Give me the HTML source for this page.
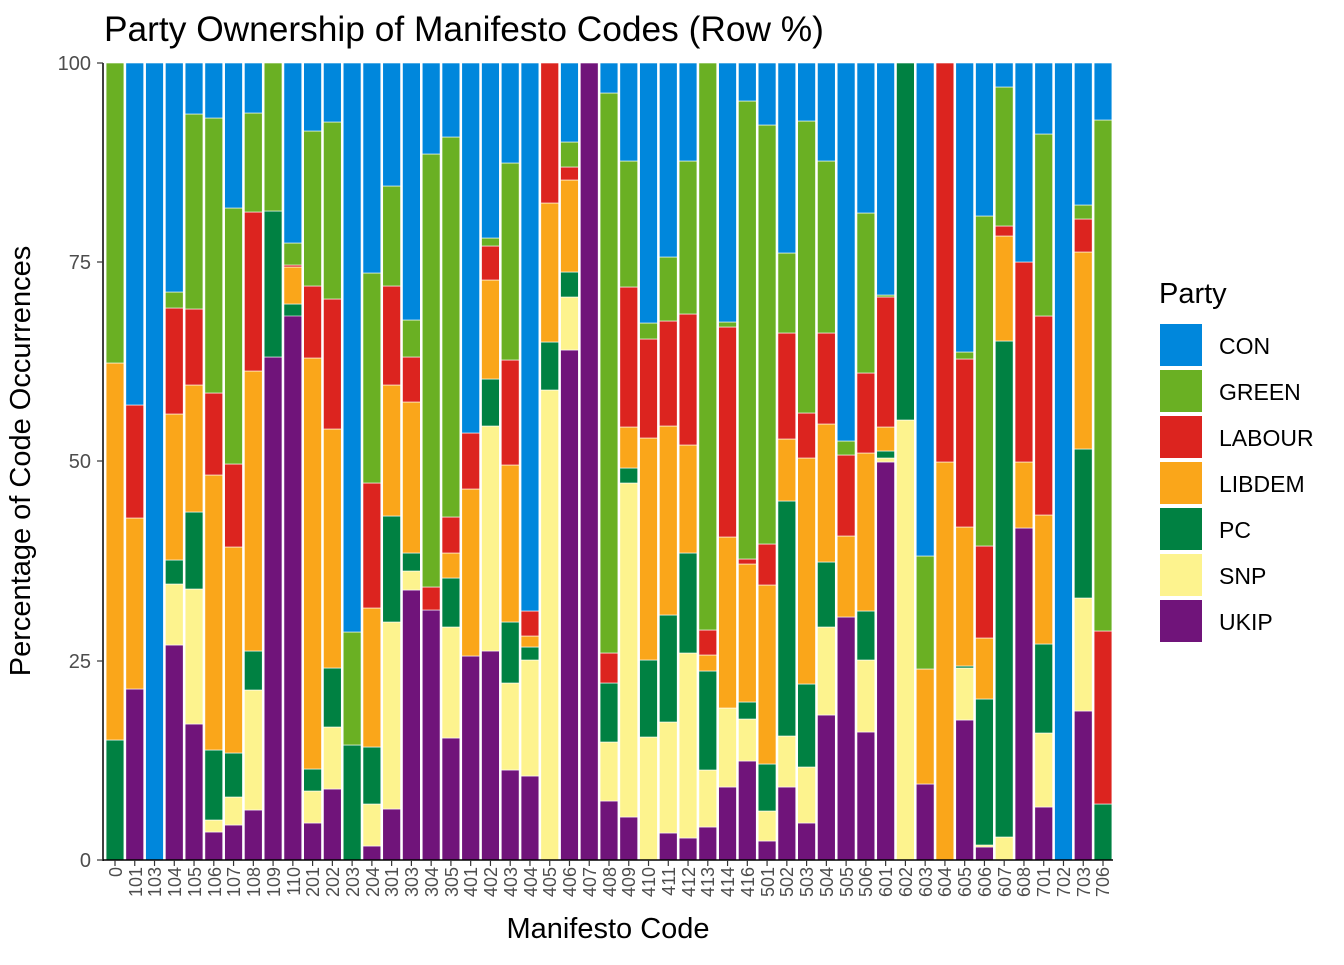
<!DOCTYPE html>
<html><head><meta charset="utf-8"><style>
body{margin:0;background:#fff}
svg text{font-family:"Liberation Sans",sans-serif}
</style></head><body>
<svg id="s" width="1344" height="960" xmlns="http://www.w3.org/2000/svg">
<rect width="1344" height="960" fill="#fff"/>
<text x="104" y="41" font-size="35.3" fill="#000">Party Ownership of Manifesto Codes (Row %)</text>
<g id="bars"></g>
<line x1="103" y1="63" x2="103" y2="861" stroke="#000" stroke-width="1.5"/>
<line x1="103" y1="860" x2="1113" y2="860" stroke="#000" stroke-width="1.5"/>
<g font-size="20" fill="#4d4d4d" text-anchor="end">
<text x="91" y="70">100</text><text x="91" y="269">75</text><text x="91" y="468">50</text><text x="91" y="668">25</text><text x="91" y="867">0</text>
</g>
<g stroke="#333" stroke-width="1.2">
<line x1="97" y1="63" x2="103" y2="63"/><line x1="97" y1="262" x2="103" y2="262"/><line x1="97" y1="461" x2="103" y2="461"/><line x1="97" y1="661" x2="103" y2="661"/><line x1="97" y1="860" x2="103" y2="860"/>
</g>
<g id="xt" stroke="#333" stroke-width="1.2"></g>
<text x="608" y="938" font-size="29" text-anchor="middle" fill="#000">Manifesto Code</text>
<text transform="translate(30,461) rotate(-90)" font-size="29" text-anchor="middle" fill="#000">Percentage of Code Occurrences</text>
<text x="1159" y="303" font-size="29" fill="#000">Party</text>
<rect x="1160" y="324" width="42" height="42" fill="#0087DC"/>
<rect x="1160" y="370" width="42" height="42" fill="#6AB023"/>
<rect x="1160" y="416" width="42" height="42" fill="#DC241F"/>
<rect x="1160" y="462" width="42" height="42" fill="#FAA61A"/>
<rect x="1160" y="508" width="42" height="42" fill="#008142"/>
<rect x="1160" y="554" width="42" height="42" fill="#FDF38E"/>
<rect x="1160" y="600" width="42" height="42" fill="#70147A"/>
<g font-size="23" fill="#000">
<text x="1219" y="354">CON</text><text x="1219" y="400">GREEN</text><text x="1219" y="446">LABOUR</text><text x="1219" y="492">LIBDEM</text><text x="1219" y="538">PC</text><text x="1219" y="584">SNP</text><text x="1219" y="630">UKIP</text>
</g>
<g font-size="18" fill="#4d4d4d" text-anchor="end">
<text transform="translate(122,867) rotate(-90)">0</text><text transform="translate(142,867) rotate(-90)">101</text><text transform="translate(161,867) rotate(-90)">103</text><text transform="translate(181,867) rotate(-90)">104</text><text transform="translate(201,867) rotate(-90)">105</text><text transform="translate(221,867) rotate(-90)">106</text><text transform="translate(240,867) rotate(-90)">107</text><text transform="translate(260,867) rotate(-90)">108</text><text transform="translate(280,867) rotate(-90)">109</text><text transform="translate(300,867) rotate(-90)">110</text><text transform="translate(319,867) rotate(-90)">201</text><text transform="translate(339,867) rotate(-90)">202</text><text transform="translate(359,867) rotate(-90)">203</text><text transform="translate(379,867) rotate(-90)">204</text><text transform="translate(398,867) rotate(-90)">301</text><text transform="translate(418,867) rotate(-90)">303</text><text transform="translate(438,867) rotate(-90)">304</text><text transform="translate(458,867) rotate(-90)">305</text><text transform="translate(477,867) rotate(-90)">401</text><text transform="translate(497,867) rotate(-90)">402</text><text transform="translate(517,867) rotate(-90)">403</text><text transform="translate(537,867) rotate(-90)">404</text><text transform="translate(556,867) rotate(-90)">405</text><text transform="translate(576,867) rotate(-90)">406</text><text transform="translate(596,867) rotate(-90)">407</text><text transform="translate(616,867) rotate(-90)">408</text><text transform="translate(635,867) rotate(-90)">409</text><text transform="translate(655,867) rotate(-90)">410</text><text transform="translate(675,867) rotate(-90)">411</text><text transform="translate(695,867) rotate(-90)">412</text><text transform="translate(714,867) rotate(-90)">413</text><text transform="translate(734,867) rotate(-90)">414</text><text transform="translate(754,867) rotate(-90)">416</text><text transform="translate(774,867) rotate(-90)">501</text><text transform="translate(793,867) rotate(-90)">502</text><text transform="translate(813,867) rotate(-90)">503</text><text transform="translate(833,867) rotate(-90)">504</text><text transform="translate(853,867) rotate(-90)">505</text><text transform="translate(872,867) rotate(-90)">506</text><text transform="translate(892,867) rotate(-90)">601</text><text transform="translate(912,867) rotate(-90)">602</text><text transform="translate(932,867) rotate(-90)">603</text><text transform="translate(951,867) rotate(-90)">604</text><text transform="translate(971,867) rotate(-90)">605</text><text transform="translate(991,867) rotate(-90)">606</text><text transform="translate(1011,867) rotate(-90)">607</text><text transform="translate(1030,867) rotate(-90)">608</text><text transform="translate(1050,867) rotate(-90)">701</text><text transform="translate(1070,867) rotate(-90)">702</text><text transform="translate(1090,867) rotate(-90)">703</text><text transform="translate(1109,867) rotate(-90)">706</text>
</g>
</svg>
<script>
var cols=["#70147A","#FDF38E","#008142","#FAA61A","#DC241F","#6AB023","#0087DC"];
var d=[
[860,860,740,363,363,63],[689,689,689,518,405,405],[860,860,860,860,860,860],
[645,584,560,414,308,292],[724,589,512,385,309,114],[832,820,750,475,393,118],
[825,797,753,547,464,208],[810,690,651,371,212,113],[357,357,211,211,211,63],
[313,316,304,267,265,243],[823,791,769,358,286,131],[789,727,668,429,299,122],
[860,860,745,745,745,632],[846,804,747,608,483,273],[809,622,516,385,286,186],
[590,571,553,402,357,320],[610,610,610,610,587,154],[738,627,578,553,517,137],
[656,656,656,489,433,433],[651,426,379,280,246,238],[770,683,622,465,360,163],
[776,660,647,636,611,611],[860,390,342,203,63,63],[350,297,272,180,167,142],
[63,63,63,63,63,63],[801,742,683,683,653,93],[817,483,468,427,287,161],
[860,737,660,438,339,323],[833,722,615,426,321,257],[838,653,553,445,314,161],
[827,770,671,655,630,63],[787,708,708,537,327,322],[761,719,702,564,559,101],
[841,811,764,585,544,125],[787,736,501,439,333,253],[823,767,684,458,413,121],
[715,627,562,424,333,161],[617,617,617,536,455,441],[732,660,611,453,373,213],
[462,458,451,427,297,295],[860,420,63,63,63,63],[784,784,784,669,669,556],
[860,860,860,462,63,63],[720,668,666,527,359,352],[847,845,699,638,546,216],
[860,837,341,236,226,87],[528,528,528,462,262,262],[807,733,644,515,316,134],
[860,860,860,860,860,860],[711,598,449,252,219,205],[860,860,804,804,631,120]];
var g=document.getElementById("bars"),h="",tk="";
d.forEach(function(b,i){var c=115+i*19.76;var x=c-8.9;var t=b.concat([63]);var prev=860;
tk+='<line x1="'+c.toFixed(2)+'" y1="860" x2="'+c.toFixed(2)+'" y2="866"/>';
t.forEach(function(y,k){if(prev-y>0.1){h+='<rect x="'+x.toFixed(2)+'" y="'+y+'" width="17.8" height="'+(prev-y)+'" fill="'+cols[k]+'" stroke="#fff" stroke-width="0.6"/>';}prev=y;});});
g.innerHTML=h;
document.getElementById("xt").innerHTML=tk;
</script>
</body></html>
